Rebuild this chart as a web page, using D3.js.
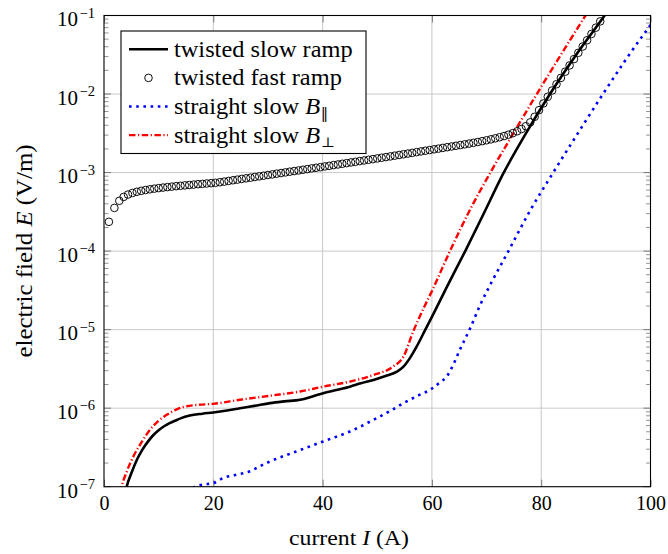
<!DOCTYPE html>
<html>
<head>
<meta charset="utf-8">
<script src="https://cdn.jsdelivr.net/npm/d3@7"></script>
<style>
  html, body { margin: 0; padding: 0; background: #fff; }
  svg { display: block; }
  text { font-family: "Liberation Serif", "DejaVu Serif", serif; fill: #000; }
</style>
</head>
<body>
<svg id="chart" width="668" height="554"></svg>
<script>
// Electric field E (V/m) against transport current I (A)

// Twisted sample, slow ramp: [I, E]
const twistedSlow = [
  [3.9, 8.32e-8], [4.15, 1.0e-7], [5.0, 1.48e-7], [6.0, 2.19e-7], [7.0, 2.95e-7],
  [8.0, 3.72e-7], [9.0, 4.52e-7], [10.0, 5.25e-7], [11.0, 5.89e-7], [12.0, 6.46e-7],
  [13.0, 6.92e-7], [14.0, 7.41e-7], [15.7, 8.05e-7], [18.0, 8.51e-7], [20.0, 8.81e-7],
  [22.5, 9.33e-7], [24.9, 1.0e-6], [27.5, 1.07e-6], [30.4, 1.16e-6], [33.0, 1.22e-6],
  [35.9, 1.28e-6], [38.0, 1.40e-6], [40.1, 1.55e-6], [42.5, 1.70e-6], [45.0, 1.88e-6],
  [47.0, 2.07e-6], [49.3, 2.29e-6], [51.5, 2.57e-6], [53.6, 2.92e-6], [54.8, 3.38e-6],
  [56.0, 4.37e-6], [57.2, 6.07e-6], [58.8, 1.0e-5], [60.0, 1.45e-5], [63.0, 3.80e-5],
  [66.1, 1.0e-4], [69.5, 3.02e-4], [73.0, 9.55e-4], [77.2, 3.16e-3], [81.6, 1.0e-2],
  [86.5, 3.24e-2], [91.6, 1.0e-1], [92.5, 1.23e-1]
];

// Twisted sample, fast ramp (measured points): [I, E]
const twistedFast = [
  [0.9, 2.36e-4], [1.9, 3.55e-4], [2.8, 4.37e-4], [3.6, 4.90e-4], [4.4, 5.25e-4],
  [5.2, 5.50e-4], [6.0, 5.69e-4], [6.8, 5.85e-4], [7.6, 6.00e-4], [8.4, 6.12e-4],
  [9.2, 6.24e-4], [10.0, 6.34e-4], [10.8, 6.44e-4], [11.6, 6.53e-4], [12.4, 6.62e-4],
  [13.2, 6.71e-4], [14.0, 6.79e-4], [14.8, 6.87e-4], [15.6, 6.95e-4], [16.4, 7.03e-4],
  [17.2, 7.11e-4], [18.0, 7.18e-4], [18.8, 7.26e-4], [19.6, 7.33e-4], [20.4, 7.40e-4],
  [21.2, 7.53e-4], [22.0, 7.67e-4], [22.8, 7.82e-4], [23.6, 7.98e-4], [24.4, 8.13e-4],
  [25.2, 8.30e-4], [26.0, 8.45e-4], [26.8, 8.61e-4], [27.6, 8.79e-4], [28.4, 8.95e-4],
  [29.2, 9.12e-4], [30.0, 9.31e-4], [30.8, 9.48e-4], [31.6, 9.68e-4], [32.4, 9.86e-4],
  [33.2, 1.005e-3], [34.0, 1.026e-3], [34.8, 1.045e-3], [35.6, 1.064e-3], [36.4, 1.086e-3],
  [37.2, 1.107e-3], [38.0, 1.130e-3], [38.8, 1.151e-3], [39.6, 1.172e-3], [40.4, 1.197e-3],
  [41.2, 1.219e-3], [42.0, 1.245e-3], [42.8, 1.268e-3], [43.6, 1.294e-3], [44.4, 1.318e-3],
  [45.2, 1.346e-3], [46.0, 1.371e-3], [46.8, 1.400e-3], [47.6, 1.426e-3], [48.4, 1.455e-3],
  [49.2, 1.483e-3], [50.0, 1.514e-3], [50.8, 1.545e-3], [51.6, 1.574e-3], [52.4, 1.607e-3],
  [53.2, 1.641e-3], [54.0, 1.675e-3], [54.8, 1.710e-3], [55.6, 1.746e-3], [56.4, 1.782e-3],
  [57.2, 1.820e-3], [58.0, 1.858e-3], [58.8, 1.897e-3], [59.6, 1.936e-3], [60.4, 1.977e-3],
  [61.2, 2.018e-3], [62.0, 2.061e-3], [62.8, 2.104e-3], [63.6, 2.148e-3], [64.4, 2.193e-3],
  [65.2, 2.239e-3], [66.0, 2.286e-3], [66.8, 2.339e-3], [67.6, 2.393e-3], [68.4, 2.449e-3],
  [69.2, 2.512e-3], [70.0, 2.576e-3], [70.8, 2.649e-3], [71.6, 2.729e-3], [72.4, 2.818e-3],
  [73.2, 2.917e-3], [74.0, 3.034e-3], [74.8, 3.177e-3], [75.6, 3.357e-3], [76.4, 3.589e-3],
  [77.2, 3.890e-3], [78.0, 4.365e-3], [78.8, 5.129e-3], [79.6, 6.237e-3], [80.4, 7.586e-3],
  [81.2, 9.226e-3], [82.0, 1.109e-2], [82.8, 1.334e-2], [83.6, 1.603e-2], [84.4, 1.928e-2],
  [85.2, 2.317e-2], [86.0, 2.786e-2], [86.8, 3.350e-2], [87.6, 4.027e-2], [88.4, 4.842e-2],
  [89.2, 5.821e-2], [90.0, 6.998e-2], [90.8, 8.414e-2]
];

// Straight sample, slow ramp, field parallel: [I, E]
const straightPar = [
  [16.3, 9.55e-8], [16.65, 1.0e-7], [18.0, 1.06e-7], [20.0, 1.11e-7], [21.8, 1.29e-7],
  [24.0, 1.41e-7], [26.7, 1.57e-7], [28.5, 1.82e-7], [30.4, 2.10e-7], [35.2, 2.81e-7],
  [40.1, 3.77e-7], [45.0, 5.05e-7], [49.9, 7.46e-7], [52.5, 9.33e-7], [54.8, 1.16e-6],
  [57.5, 1.45e-6], [59.65, 1.71e-6], [61.5, 2.14e-6], [62.7, 2.52e-6], [63.9, 3.56e-6],
  [65.1, 5.51e-6], [67.0, 1.04e-5], [68.8, 2.04e-5], [71.2, 4.37e-5], [74.0, 1.0e-4],
  [78.0, 3.31e-4], [82.2, 1.0e-3], [86.7, 3.16e-3], [91.3, 1.0e-2], [95.6, 2.82e-2],
  [100.0, 7.59e-2]
];

// Straight sample, slow ramp, field perpendicular: [I, E]
const straightPerp = [
  [3.0, 8.32e-8], [3.24, 1.0e-7], [4.2, 1.58e-7], [5.37, 2.43e-7], [7.0, 3.80e-7],
  [8.42, 5.31e-7], [10.0, 6.92e-7], [11.47, 8.22e-7], [13.0, 9.44e-7], [14.5, 1.035e-6],
  [17.0, 1.10e-6], [20.0, 1.135e-6], [24.9, 1.28e-6], [30.4, 1.44e-6], [35.9, 1.63e-6],
  [40.1, 1.88e-6], [45.0, 2.18e-6], [49.3, 2.65e-6], [52.9, 3.38e-6], [54.8, 4.53e-6],
  [56.6, 9.55e-6], [58.4, 1.82e-5], [60.0, 3.09e-5], [63.3, 1.0e-4], [67.0, 3.39e-4],
  [70.7, 1.0e-3], [75.0, 3.24e-3], [79.2, 1.0e-2], [83.6, 3.16e-2], [88.1, 1.0e-1],
  [89.0, 1.26e-1]
];

// Axis ticks
const xTickValues = [0, 20, 40, 60, 80, 100];
const yDecadeExponents = [-7, -6, -5, -4, -3, -2, -1];

const svg = d3.select("#chart");
const plotLeft = 104, plotRight = 650.5, plotTop = 15.5, plotBottom = 486.7;

const x = d3.scaleLinear().domain([0, 100]).range([plotLeft, plotRight]);
const y = d3.scaleLog().domain([1e-7, 1e-1]).range([plotBottom, plotTop]);

svg.append("defs").append("clipPath").attr("id", "plotClip")
  .append("rect").attr("x", plotLeft).attr("y", plotTop)
  .attr("width", plotRight - plotLeft).attr("height", plotBottom - plotTop);

// Grid
const grid = svg.append("g").attr("stroke", "#c9c9c9").attr("stroke-width", 1).attr("fill", "none");
xTickValues.slice(1, -1).forEach(v => {
  grid.append("line").attr("x1", x(v)).attr("x2", x(v)).attr("y1", plotTop).attr("y2", plotBottom);
});
yDecadeExponents.slice(1, -1).forEach(k => {
  const v = Math.pow(10, k);
  grid.append("line").attr("x1", plotLeft).attr("x2", plotRight).attr("y1", y(v)).attr("y2", y(v));
});

// Minor and major tick marks (inside the frame, on both sides)
const ticks = svg.append("g").attr("stroke", "#7a7a7a").attr("fill", "none");
for (let k = -7; k < -1; k++) {
  for (let m = 2; m <= 9; m++) {
    const yy = y(m * Math.pow(10, k));
    ticks.append("line").attr("x1", plotLeft).attr("x2", plotLeft + 4.5).attr("y1", yy).attr("y2", yy).attr("stroke-width", 0.8);
    ticks.append("line").attr("x1", plotRight).attr("x2", plotRight - 4.5).attr("y1", yy).attr("y2", yy).attr("stroke-width", 0.8);
  }
}
yDecadeExponents.forEach(k => {
  const yy = y(Math.pow(10, k));
  ticks.append("line").attr("x1", plotLeft).attr("x2", plotLeft + 7).attr("y1", yy).attr("y2", yy).attr("stroke-width", 1);
  ticks.append("line").attr("x1", plotRight).attr("x2", plotRight - 7).attr("y1", yy).attr("y2", yy).attr("stroke-width", 1);
});

// Bottom axis via d3 (ticks point inward)
const xAxis = d3.axisBottom(x).tickValues(xTickValues).tickFormat(d3.format("d"))
  .tickSizeInner(-7).tickSizeOuter(0).tickPadding(9.5);
const gx = svg.append("g").attr("transform", `translate(0,${plotBottom})`).call(xAxis);
gx.select(".domain").remove();
gx.selectAll(".tick line").attr("stroke", "#7a7a7a");
gx.selectAll(".tick text").attr("font-size", 20).attr("font-family", "Liberation Serif, serif").attr("fill", "#000");
// Top tick marks
const xTop = d3.axisTop(x).tickValues(xTickValues).tickFormat("").tickSizeInner(-7).tickSizeOuter(0);
const gxt = svg.append("g").attr("transform", `translate(0,${plotTop})`).call(xTop);
gxt.select(".domain").remove();
gxt.selectAll(".tick line").attr("stroke", "#7a7a7a");

// Y tick labels: 10^k
yDecadeExponents.forEach(k => {
  const t = svg.append("text")
    .attr("x", 95).attr("y", y(Math.pow(10, k)) + 10.8)
    .attr("text-anchor", "end").attr("font-size", 21);
  t.append("tspan").text("10");
  t.append("tspan").attr("dy", -8.8).attr("font-size", 14.5).attr("dx", 1.5).text("\u2212" + Math.abs(k));
});

// Curves
const line = d3.line().x(d => x(d[0])).y(d => y(d[1])).curve(d3.curveMonotoneX);
const plot = svg.append("g").attr("clip-path", "url(#plotClip)");

plot.append("path").datum(twistedSlow).attr("d", line)
  .attr("fill", "none").attr("stroke", "#000").attr("stroke-width", 2.6)
  .attr("stroke-linejoin", "round");

const circles = svg.append("g");
circles.selectAll("circle").data(twistedFast).join("circle")
  .attr("cx", d => x(d[0])).attr("cy", d => y(d[1])).attr("r", 3.8)
  .attr("fill", "none").attr("stroke", "#000").attr("stroke-width", 0.95);

plot.append("path").datum(straightPar).attr("d", line)
  .attr("fill", "none").attr("stroke", "#0000ff").attr("stroke-width", 2.6)
  .attr("stroke-dasharray", "2.6,4.6");

plot.append("path").datum(straightPerp).attr("d", line)
  .attr("fill", "none").attr("stroke", "#ff0000").attr("stroke-width", 2.4)
  .attr("stroke-dasharray", "6.5,2.5,1.2,2.5");

// Frame
svg.append("rect").attr("x", plotLeft).attr("y", plotTop)
  .attr("width", plotRight - plotLeft).attr("height", plotBottom - plotTop)
  .attr("fill", "none").attr("stroke", "#000").attr("stroke-width", 1.1);

// Axis labels
const xl = svg.append("text").attr("transform", `translate(349,545) scale(1.08,1)`)
  .attr("text-anchor", "middle").attr("font-size", 22);
xl.append("tspan").text("current ");
xl.append("tspan").attr("font-style", "italic").text("I");
xl.append("tspan").text(" (A)");

const yl = svg.append("text").attr("transform", `translate(32,251) rotate(-90) scale(1.08,1)`)
  .attr("text-anchor", "middle").attr("font-size", 23);
yl.append("tspan").text("electric field ");
yl.append("tspan").attr("font-style", "italic").text("E");
yl.append("tspan").text(" (V/m)");

// Legend
const lg = svg.append("g");
lg.append("rect").attr("x", 121).attr("y", 31).attr("width", 245).attr("height", 122.5)
  .attr("fill", "#fff").attr("stroke", "#000").attr("stroke-width", 1.1);
const rowY = i => 49.3 + i * 28.6;
const legendEntries = [
  { label: ["twisted slow ramp"], kind: "solid" },
  { label: ["twisted fast ramp"], kind: "circle" },
  { label: ["straight slow ", "B", "\u2016"], kind: "dotted" },
  { label: ["straight slow ", "B", "\u22A5"], kind: "dashdot" }
];
legendEntries.forEach((e, i) => {
  const yy = rowY(i);
  if (e.kind === "solid") {
    lg.append("line").attr("x1", 129).attr("x2", 168).attr("y1", yy).attr("y2", yy)
      .attr("stroke", "#000").attr("stroke-width", 2.6);
  } else if (e.kind === "circle") {
    lg.append("circle").attr("cx", 148.5).attr("cy", yy).attr("r", 3.8)
      .attr("fill", "none").attr("stroke", "#000").attr("stroke-width", 0.95);
  } else if (e.kind === "dotted") {
    lg.append("line").attr("x1", 129).attr("x2", 168).attr("y1", yy).attr("y2", yy)
      .attr("stroke", "#0000ff").attr("stroke-width", 2.6).attr("stroke-dasharray", "2.6,4.6");
  } else {
    lg.append("line").attr("x1", 129).attr("x2", 168).attr("y1", yy).attr("y2", yy)
      .attr("stroke", "#ff0000").attr("stroke-width", 2.4).attr("stroke-dasharray", "6.5,2.5,1.2,2.5");
  }
  const t = lg.append("text").attr("transform", `translate(174,${yy + 7.5}) scale(1.06,1)`)
    .attr("font-size", 23);
  t.append("tspan").text(e.label[0]);
  if (e.label.length > 1) {
    t.append("tspan").attr("font-style", "italic").text(e.label[1]);
    t.append("tspan").attr("font-size", 14).attr("dy", 4).attr("dx", 0.5)
      .attr("font-family", "DejaVu Serif, serif").text(e.label[2]);
  }
});
</script>
</body>
</html>
